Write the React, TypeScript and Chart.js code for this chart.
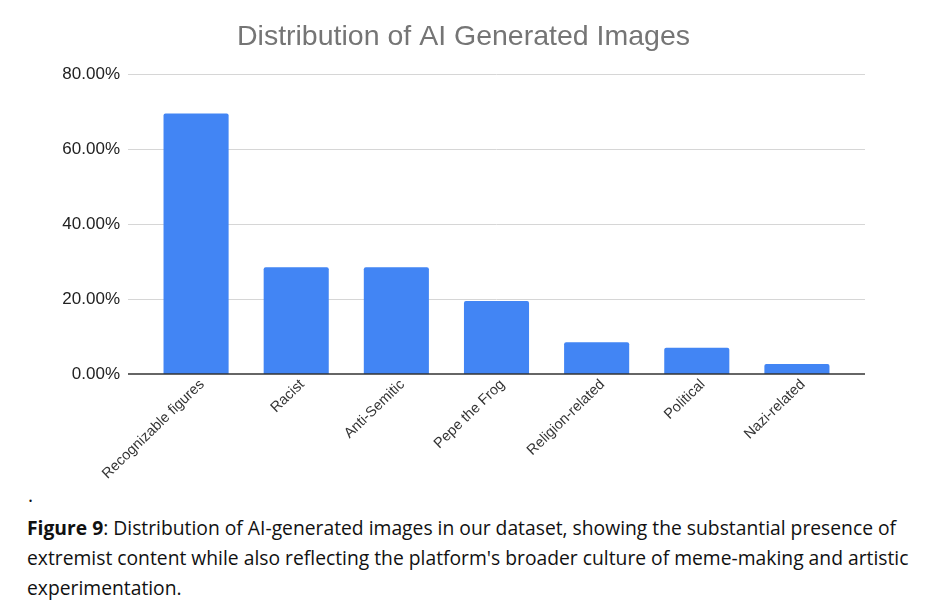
import React, { useEffect, useRef } from 'react';
import { Chart, registerables, Plugin } from 'chart.js';

Chart.register(...registerables);

const categories = [
  'Recognizable figures',
  'Racist',
  'Anti-Semitic',
  'Pepe the Frog',
  'Religion-related',
  'Political',
  'Nazi-related',
];
const shares = [69.5, 28.5, 28.5, 19.5, 8.5, 7.0, 2.7];
const yTicks = [0, 20, 40, 60, 80];

const chartTitle = 'Distribution of AI Generated Images';

// grid lines stick out past the bars a little, like in sheets
const gridPlugin: Plugin<'bar'> = {
  id: 'sheetGrid',
  beforeDatasetsDraw(chart) {
    const { ctx, chartArea } = chart;
    const y = chart.scales.y;
    ctx.save();
    ctx.strokeStyle = '#d6d6d6';
    ctx.lineWidth = 1;
    y.ticks.forEach(t => {
      if (t.value === 0) return;
      const py = Math.round(y.getPixelForValue(t.value)) + 0.5;
      ctx.beginPath();
      ctx.moveTo(chartArea.left - 18, py);
      ctx.lineTo(chartArea.right + 18, py);
      ctx.stroke();
    });
    ctx.restore();
  },
  afterDatasetsDraw(chart) {
    const { ctx, chartArea } = chart;
    const py = chart.scales.y.getPixelForValue(0);
    ctx.save();
    ctx.strokeStyle = '#333333';
    ctx.lineWidth = 1.5;
    ctx.beginPath();
    ctx.moveTo(chartArea.left - 18, py);
    ctx.lineTo(chartArea.right + 18, py);
    ctx.stroke();
    ctx.restore();
  },
};

const App: React.FC = () => {
  const canvasRef = useRef<HTMLCanvasElement>(null);

  useEffect(() => {
    if (!canvasRef.current) return;
    const chart = new Chart(canvasRef.current, {
      type: 'bar',
      data: {
        labels: categories,
        datasets: [{
          data: shares,
          backgroundColor: '#4285F4',
          borderRadius: 2,
          borderSkipped: 'bottom',
          barPercentage: 0.65,
          categoryPercentage: 1,
        }],
      },
      options: {
        animation: false,
        responsive: true,
        maintainAspectRatio: false,
        layout: { padding: 0 },
        plugins: {
          legend: { display: false },
          tooltip: { enabled: false },
          title: {
            display: true,
            text: chartTitle,
            color: '#757575',
            font: { family: 'Arial, "Liberation Sans", sans-serif', size: 28.5, weight: 'normal' },
            padding: { top: 12, bottom: 20 },
          },
        },
        scales: {
          x: {
            grid: { display: false, drawTicks: false },
            border: { display: false },
            ticks: {
              color: '#333333',
              font: { family: 'Arial, "Liberation Sans", sans-serif', size: 14.5 },
              minRotation: 44,
              maxRotation: 44,
              autoSkip: false,
              padding: 2,
              labelOffset: 6,
            },
            afterFit(scale) { scale.height = 114; },
          },
          y: {
            min: 0,
            max: 80,
            afterBuildTicks(scale) { scale.ticks = yTicks.map(v => ({ value: v })); },
            grid: { display: false, drawTicks: false },
            border: { display: false },
            ticks: {
              color: '#222222',
              font: { family: 'Arial, "Liberation Sans", sans-serif', size: 17 },
              padding: 26,
              callback: v => Number(v).toFixed(2) + '%',
            },
            afterFit(scale) { scale.width = 108; },
          },
          // empty right-hand spacer so the title stays centred on the canvas
          spacer: {
            type: 'linear',
            position: 'right',
            grid: { display: false, drawTicks: false },
            border: { display: false },
            ticks: { display: false },
            afterFit(scale) { scale.width = 42; },
          },
        },
      },
      plugins: [gridPlugin],
    });
    return () => chart.destroy();
  }, []);

  return (
    <div style={{ position: 'absolute', left: 0, top: 0, width: 931, height: 610, background: '#fff', overflow: 'hidden' }}>
      <div style={{ position: 'absolute', left: 38, top: 8, width: 851, height: 480 }}>
        <canvas ref={canvasRef}></canvas>
      </div>
      <div style={{ position: 'absolute', left: 28, top: 480, fontFamily: '"Open Sans", sans-serif', fontSize: 19.3, color: '#111', lineHeight: '30px' }}>
        .
      </div>
      <div style={{ position: 'absolute', left: 27, top: 513, fontFamily: '"Open Sans", sans-serif', fontSize: 19.3, color: '#111', lineHeight: '30px', whiteSpace: 'nowrap' }}>
        <b>Figure 9</b>: Distribution of AI-generated images in our dataset, showing the substantial presence of<br />
        extremist content while also reflecting the platform's broader culture of meme-making and artistic<br />
        experimentation.
      </div>
    </div>
  );
};

export default App;
